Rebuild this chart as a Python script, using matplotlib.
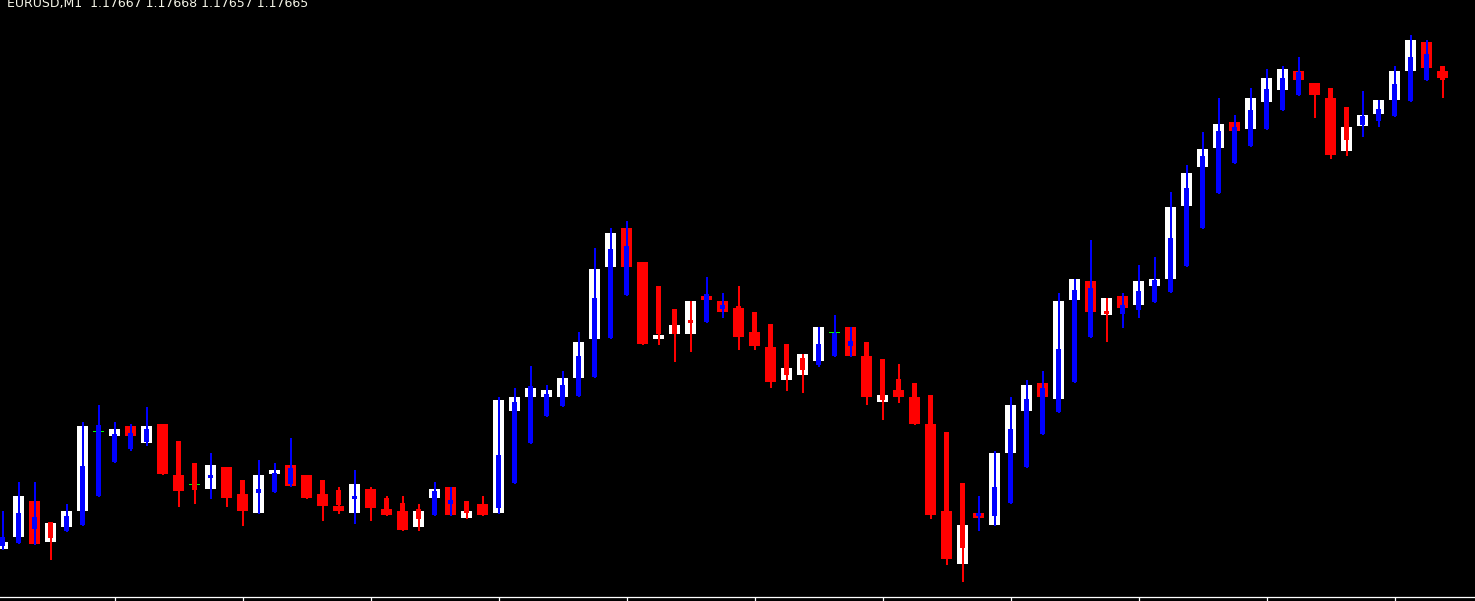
import matplotlib
matplotlib.use("Agg")
import matplotlib.pyplot as plt
import numpy as np

# ---------------- data ----------------
symbol = "EURUSD,M1"
quote_values = ["1.17667", "1.17668", "1.17657", "1.17665"]

# wide (smoothed) candle bodies: open / close
wide_open = [1.174260, 1.174320, 1.174495, 1.174295, 1.174370, 1.174450, 1.174845, 1.174825, 1.174870, 1.174790,
             1.174880, 1.174625, 1.174580, 1.174560, 1.174665, 1.174530, 1.174440, 1.174635, 1.174675, 1.174625,
             1.174530, 1.174470, 1.174440, 1.174555, 1.174455, 1.174445, 1.174370, 1.174515, 1.174565, 1.174415,
             1.174480, 1.174440, 1.174950, 1.175020, 1.175020, 1.175020, 1.175115, 1.175310, 1.175670, 1.175860,
             1.175690, 1.175310, 1.175335, 1.175335, 1.175520, 1.175495, 1.175460, 1.175340, 1.175265, 1.175105,
             1.175130, 1.175200, 1.175340, 1.175365, 1.175220, 1.174995, 1.175050, 1.175015, 1.174880, 1.174445,
             1.174185, 1.174435, 1.174380, 1.174740, 1.174950, 1.175085, 1.175010, 1.175505, 1.175595, 1.175430,
             1.175520, 1.175480, 1.175575, 1.175610, 1.175975, 1.176170, 1.176265, 1.176390, 1.176360, 1.176495,
             1.176555, 1.176645, 1.176585, 1.176510, 1.176250, 1.176375, 1.176435, 1.176505, 1.176650, 1.176790,
             1.176645]
wide_close = [1.174290, 1.174520, 1.174285, 1.174385, 1.174445, 1.174870, 1.174845, 1.174855, 1.174825, 1.174870,
              1.174635, 1.174550, 1.174580, 1.174675, 1.174515, 1.174450, 1.174625, 1.174650, 1.174575, 1.174515,
              1.174475, 1.174450, 1.174580, 1.174465, 1.174430, 1.174355, 1.174445, 1.174555, 1.174430, 1.174445,
              1.174430, 1.175000, 1.175015, 1.175060, 1.175050, 1.175110, 1.175290, 1.175655, 1.175835, 1.175670,
              1.175285, 1.175325, 1.175375, 1.175495, 1.175505, 1.175445, 1.175320, 1.175275, 1.175095, 1.175160,
              1.175230, 1.175365, 1.175340, 1.175225, 1.175020, 1.175025, 1.175020, 1.174885, 1.174430, 1.174210,
              1.174375, 1.174415, 1.174735, 1.174975, 1.175075, 1.175020, 1.175495, 1.175605, 1.175445, 1.175510,
              1.175465, 1.175595, 1.175605, 1.175965, 1.176135, 1.176255, 1.176380, 1.176350, 1.176510, 1.176610,
              1.176655, 1.176605, 1.176530, 1.176230, 1.176365, 1.176425, 1.176500, 1.176645, 1.176800, 1.176665,
              1.176615]

# price candles: open / high / low / close
bar_open = [1.174275, 1.174290, 1.174360, 1.174390, 1.174350, 1.174380, 1.174525, 1.174695, 1.174760, 1.174795,
            1.174875, 1.174795, 1.174685, 1.174615, 1.174660, 1.174600, 1.174540, 1.174545, 1.174585, 1.174620,
            1.174600, 1.174550, 1.174510, 1.174555, 1.174510, 1.174485, 1.174455, 1.174430, 1.174485, 1.174495,
            1.174480, 1.174465, 1.174590, 1.174790, 1.174925, 1.174975, 1.175025, 1.175120, 1.175315, 1.175530,
            1.175685, 1.175570, 1.175455, 1.175400, 1.175395, 1.175460, 1.175470, 1.175440, 1.175380, 1.175280,
            1.175210, 1.175180, 1.175225, 1.175275, 1.175290, 1.175205, 1.175105, 1.175085, 1.175025, 1.174840,
            1.174585, 1.174425, 1.174425, 1.174490, 1.174670, 1.174835, 1.174945, 1.175095, 1.175320, 1.175445,
            1.175435, 1.175455, 1.175495, 1.175545, 1.175675, 1.175865, 1.176040, 1.176190, 1.176275, 1.176360,
            1.176455, 1.176530, 1.176580, 1.176560, 1.176465, 1.176380, 1.176400, 1.176425, 1.176500, 1.176605,
            1.176670]
bar_high = [1.174445, 1.174590, 1.174590, 1.174390, 1.174480, 1.174890, 1.174975, 1.174890, 1.174880, 1.174965,
            1.174875, 1.174795, 1.174685, 1.174735, 1.174665, 1.174600, 1.174700, 1.174685, 1.174810, 1.174625,
            1.174600, 1.174565, 1.174650, 1.174565, 1.174520, 1.174520, 1.174480, 1.174590, 1.174565, 1.174495,
            1.174520, 1.175015, 1.175060, 1.175170, 1.175075, 1.175145, 1.175340, 1.175760, 1.175860, 1.175895,
            1.175690, 1.175570, 1.175455, 1.175495, 1.175615, 1.175535, 1.175570, 1.175440, 1.175380, 1.175280,
            1.175230, 1.175365, 1.175425, 1.175365, 1.175290, 1.175205, 1.175180, 1.175085, 1.175025, 1.174840,
            1.174585, 1.174520, 1.174745, 1.175015, 1.175100, 1.175145, 1.175535, 1.175605, 1.175800, 1.175510,
            1.175535, 1.175675, 1.175715, 1.176040, 1.176175, 1.176340, 1.176510, 1.176425, 1.176560, 1.176655,
            1.176670, 1.176715, 1.176585, 1.176560, 1.176465, 1.176545, 1.176500, 1.176670, 1.176825, 1.176800,
            1.176670]
bar_low = [1.174255, 1.174285, 1.174280, 1.174205, 1.174345, 1.174375, 1.174520, 1.174690, 1.174750, 1.174775,
           1.174630, 1.174470, 1.174485, 1.174510, 1.174470, 1.174375, 1.174435, 1.174540, 1.174570, 1.174510,
           1.174400, 1.174435, 1.174385, 1.174400, 1.174425, 1.174350, 1.174350, 1.174425, 1.174425, 1.174410,
           1.174425, 1.174435, 1.174585, 1.174785, 1.174920, 1.174970, 1.175020, 1.175115, 1.175310, 1.175525,
           1.175280, 1.175280, 1.175195, 1.175245, 1.175390, 1.175415, 1.175255, 1.175255, 1.175065, 1.175050,
           1.175040, 1.175170, 1.175220, 1.175220, 1.174980, 1.174905, 1.174990, 1.174880, 1.174410, 1.174180,
           1.174095, 1.174350, 1.174375, 1.174485, 1.174665, 1.174830, 1.174940, 1.175090, 1.175315, 1.175295,
           1.175365, 1.175415, 1.175490, 1.175540, 1.175670, 1.175860, 1.176035, 1.176185, 1.176270, 1.176355,
           1.176450, 1.176525, 1.176415, 1.176210, 1.176225, 1.176320, 1.176370, 1.176420, 1.176495, 1.176600,
           1.176515]
bar_close = [1.174315, 1.174435, 1.174415, 1.174315, 1.174420, 1.174670, 1.174875, 1.174830, 1.174835, 1.174855,
             1.174640, 1.174555, 1.174555, 1.174625, 1.174520, 1.174460, 1.174555, 1.174635, 1.174660, 1.174520,
             1.174485, 1.174480, 1.174520, 1.174470, 1.174455, 1.174375, 1.174410, 1.174545, 1.174500, 1.174440,
             1.174435, 1.174725, 1.174990, 1.175070, 1.175030, 1.175075, 1.175220, 1.175510, 1.175755, 1.175770,
             1.175290, 1.175335, 1.175335, 1.175390, 1.175530, 1.175475, 1.175330, 1.175285, 1.175110, 1.175130,
             1.175155, 1.175280, 1.175335, 1.175295, 1.175025, 1.175005, 1.175030, 1.174890, 1.174440, 1.174220,
             1.174265, 1.174435, 1.174565, 1.174855, 1.175005, 1.175060, 1.175255, 1.175550, 1.175560, 1.175435,
             1.175475, 1.175545, 1.175600, 1.175810, 1.176060, 1.176220, 1.176345, 1.176365, 1.176450, 1.176555,
             1.176610, 1.176640, 1.176535, 1.176240, 1.176305, 1.176420, 1.176455, 1.176580, 1.176715, 1.176730,
             1.176605]

# ---------------- figure ----------------
W, H, DPI = 1475, 601, 100
fig = plt.figure(figsize=(W / DPI, H / DPI), dpi=DPI, facecolor="black")
ax = fig.add_axes([0, 4 / H, 1, (H - 4) / H])
ax.set_facecolor("black")

PX_X = 1 / 16.0          # one pixel in bar units (16 px per bar)
PX_Y = 0.000005          # one pixel in price units

n = len(bar_open)
x = np.arange(n)
wo = np.array(wide_open); wc = np.array(wide_close)
o = np.array(bar_open); h = np.array(bar_high); l = np.array(bar_low); c = np.array(bar_close)

# wide bodies
wide_col = np.where(wc > wo + 1e-9, "#FFFFFF", np.where(wc < wo - 1e-9, "#FF0000", "#00FF00"))
ax.bar(x, np.abs(wc - wo) + PX_Y, bottom=np.minimum(wo, wc) - PX_Y, width=11 * PX_X,
       color=wide_col, linewidth=0, antialiased=False, zorder=2)

# narrow candles
nar_col = np.where(c >= o, "#0000FF", "#FF0000")
ax.bar(x + 0.5 * PX_X, h - l + PX_Y, bottom=l - PX_Y, width=2 * PX_X,
       color=nar_col, linewidth=0, antialiased=False, zorder=3)
ax.bar(x, np.abs(c - o) + PX_Y, bottom=np.minimum(o, c) - PX_Y, width=5 * PX_X,
       color=nar_col, linewidth=0, antialiased=False, zorder=4)

ax.set_xlim(-2.5 / 16, (W - 2.5) / 16)
ax.set_ylim(1.174 + PX_Y * 3, 1.177)

for s in ["top", "right", "left"]:
    ax.spines[s].set_visible(False)
ax.spines["bottom"].set_color("white")
ax.spines["bottom"].set_linewidth(0.9)
ax.set_yticks([])
ax.set_xticks(np.arange(7, n, 8))
ax.tick_params(axis="x", direction="out", length=3, width=0.9, color="white", labelbottom=False)

fig.text(7 / W, (H - 7.5) / H, symbol + "  " + " ".join(quote_values),
         color="#F5F5E8", fontsize=9, family="DejaVu Sans", va="baseline", ha="left")

fig.savefig("out.png", dpi=DPI, facecolor="black")
